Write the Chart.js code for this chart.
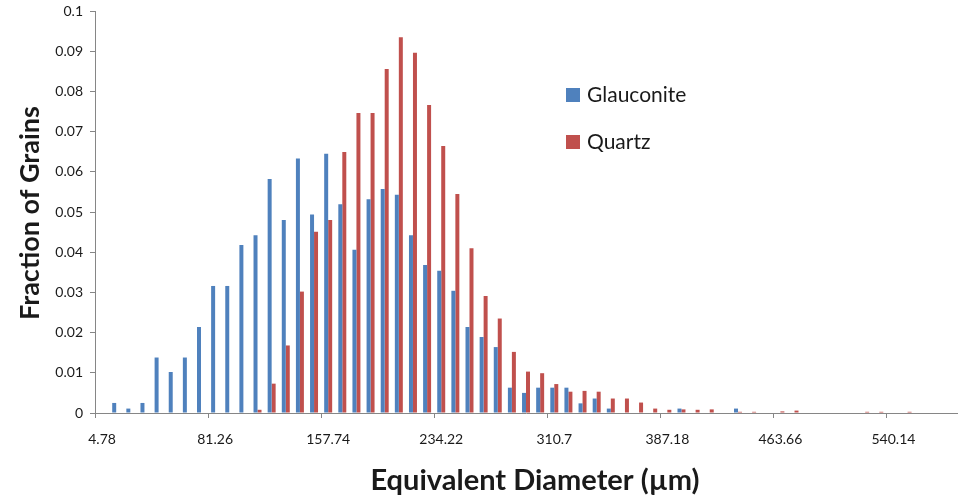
<!DOCTYPE html>
<html lang="en">
<head>
    <meta charset="UTF-8">
    <title>Grain size distribution</title>
    <script src="https://cdn.jsdelivr.net/npm/chart.js"></script>
    <style>
        body { margin: 0; background: #fff; }
    </style>
</head>
<body>
    <canvas id="grainChart" width="963" height="499"></canvas>

    <script>
        // Bin centres (equivalent diameter, µm)
        const diameters = [
            4.78, 14.34, 23.9, 33.46, 43.02, 52.58, 62.14, 71.7, 81.26, 90.82,
            100.38, 109.94, 119.5, 129.06, 138.62, 148.18, 157.74, 167.3, 176.86, 186.42,
            195.98, 205.54, 215.1, 224.66, 234.22, 243.78, 253.34, 262.9, 272.46, 282.02,
            291.58, 301.14, 310.7, 320.26, 329.82, 339.38, 348.94, 358.5, 368.06, 377.62,
            387.18, 396.74, 406.3, 415.86, 425.42, 434.98, 444.54, 454.1, 463.66, 473.22,
            482.78, 492.34, 501.9, 511.46, 521.02, 530.58, 540.14, 549.7, 559.26, 568.82,
            578.38
        ];

        // Fraction of grains per bin
        const glauconite = [
            0, 0.0025, 0.0011, 0.0025, 0.0138, 0.0102, 0.0138, 0.0214, 0.0316, 0.0316,
            0.0418, 0.0442, 0.0582, 0.0480, 0.0633, 0.0494, 0.0645, 0.0519, 0.0406, 0.0532,
            0.0557, 0.0543, 0.0442, 0.0368, 0.0354, 0.0304, 0.0214, 0.0189, 0.0164, 0.0063,
            0.0050, 0.0063, 0.0063, 0.0063, 0.0024, 0.0036, 0.0011, 0, 0, 0,
            0, 0.0011, 0, 0, 0, 0.0011, 0, 0, 0, 0,
            0, 0, 0, 0, 0, 0, 0, 0, 0, 0,
            0
        ];
        const quartz = [
            0, 0, 0, 0, 0, 0, 0, 0, 0, 0,
            0, 0.0008, 0.0073, 0.0168, 0.0302, 0.0451, 0.0480, 0.0649, 0.0746, 0.0746,
            0.0856, 0.0935, 0.0896, 0.0766, 0.0664, 0.0545, 0.0410, 0.0291, 0.0235, 0.0152,
            0.0103, 0.0099, 0.0072, 0.0053, 0.0055, 0.0053, 0.0036, 0.0036, 0.0026, 0.0011,
            0.0008, 0.0009, 0.0008, 0.0009, 0, 0.0003, 0.0003, 0, 0.0004, 0.0006,
            0, 0, 0, 0, 0.0003, 0.0003, 0, 0.0003, 0, 0,
            0
        ];

        const seriesNames = ['Glauconite', 'Quartz'];
        const seriesColors = ['#4F81BD', '#C0504D'];
        const labelEvery = 8;

        const axisColor = '#868686';
        const textColor = '#1a1a1a';
        const fontFamily = 'Lato, "Open Sans", sans-serif';

        // Axis titles and legend, drawn in the spots the original uses
        const decorations = {
            id: 'decorations',
            afterDraw(chart) {
                const c = chart.ctx;
                c.save();
                c.fillStyle = textColor;
                c.textAlign = 'center';
                c.textBaseline = 'middle';

                c.font = 'bold 29px ' + fontFamily;
                c.fillText('Equivalent Diameter (µm)', 535, 481);

                c.save();
                c.translate(30, 213);
                c.rotate(-Math.PI / 2);
                c.font = 'bold 27px ' + fontFamily;
                c.fillText('Fraction of Grains', 0, 0);
                c.restore();

                c.textAlign = 'left';
                c.font = '21px ' + fontFamily;
                const rows = [95, 142];
                seriesNames.forEach((name, i) => {
                    c.fillStyle = seriesColors[i];
                    c.fillRect(566, rows[i] - 7, 14, 14);
                    c.fillStyle = textColor;
                    c.fillText(name, 587, rows[i]);
                });
                c.restore();
            }
        };

        const chartData = {
            labels: diameters,
            datasets: seriesNames.map((name, i) => ({
                label: name,
                data: i === 0 ? glauconite : quartz,
                backgroundColor: seriesColors[i],
                borderWidth: 0,
                categoryPercentage: 0.565,
                barPercentage: 1.0
            }))
        };

        const config = {
            type: 'bar',
            data: chartData,
            plugins: [decorations],
            options: {
                responsive: false,
                animation: false,
                devicePixelRatio: 1,
                layout: { padding: { top: 11, right: 3, left: 0, bottom: 0 } },
                plugins: {
                    legend: { display: false },
                    tooltip: { enabled: false }
                },
                scales: {
                    x: {
                        offset: true,
                        afterFit(scale) { scale.height = 86; },
                        border: { display: true, color: axisColor, width: 1 },
                        grid: {
                            offset: true,
                            drawOnChartArea: false,
                            drawTicks: true,
                            tickLength: 5,
                            color: ctx => (ctx.index % labelEvery === 0 ? axisColor : 'rgba(0,0,0,0)')
                        },
                        ticks: {
                            autoSkip: false,
                            maxRotation: 0,
                            padding: 13,
                            color: textColor,
                            font: { family: fontFamily, size: 14 },
                            callback: function (value, index) {
                                return index % labelEvery === 0 ? String(diameters[index]) : '';
                            }
                        }
                    },
                    y: {
                        min: 0,
                        max: 0.1,
                        afterFit(scale) {
                            scale.width = 95;
                            scale.paddingTop = 0;
                            scale.paddingBottom = 0;
                        },
                        border: { display: true, color: axisColor, width: 1 },
                        grid: {
                            drawOnChartArea: false,
                            drawTicks: true,
                            tickLength: 5,
                            color: axisColor
                        },
                        ticks: {
                            stepSize: 0.01,
                            padding: 7,
                            color: textColor,
                            font: { family: fontFamily, size: 14 },
                            callback: value => String(Math.round(value * 100) / 100)
                        }
                    }
                }
            }
        };

        const ctx = document.getElementById('grainChart').getContext('2d');
        new Chart(ctx, config);
    </script>
</body>
</html>
